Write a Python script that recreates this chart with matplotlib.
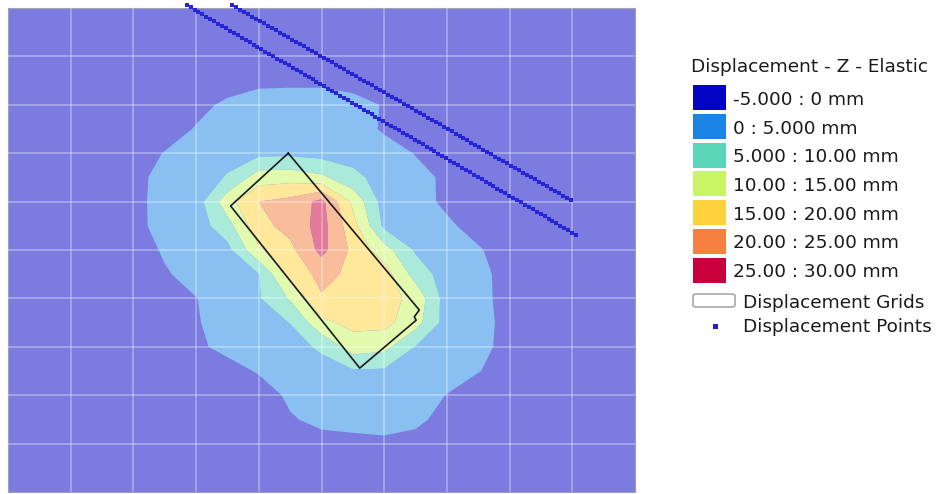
import numpy as np
import matplotlib
matplotlib.use("Agg")
import matplotlib.pyplot as plt
from matplotlib.patches import Rectangle, FancyBboxPatch
from matplotlib.colors import to_rgb

# Displacement bands (mm), colours and legend text
levels = [-5, 0, 5, 10, 15, 20, 25, 30]
band_colors = ["#0404c4", "#1c84e4", "#5cd6b8", "#c8f564", "#ffd23c", "#f58040", "#c8003c"]
band_labels = ["-5.000 : 0 mm", "0 : 5.000 mm", "5.000 : 10.00 mm", "10.00 : 15.00 mm",
               "15.00 : 20.00 mm", "20.00 : 25.00 mm", "25.00 : 30.00 mm"]
legend_title = "Displacement - Z - Elastic"
grid_label = "Displacement Grids"
points_label = "Displacement Points"

# Plan grid nodes (easting across, northing down) and Z displacement in mm
grid_x = np.arange(1.5, 8.75, 0.5)
grid_y = np.arange(1.0, 9.75, 0.5)
disp_z = np.array([
    [-3, -3, -3, -3, -3, -3, -3, -3, -3, -3, -3, -3, -3, -3, -3],
    [-3, -3, -3, -3, -2, -0.6, -0.5, -0.5, -1.2, -1.8, -3, -3, -3, -3, -3],
    [-3, -3, -3, -1.2, 0.8, 1.2, 1.2, 1.2, 1.1, -0.2, -2, -3, -3, -3, -3],
    [-3, -3, -2, 0.3, 1.8, 2.7, 2.9, 2.9, 2.2, -0.6, -2.2, -3, -3, -3, -3],
    [-3, -2, 0.2, 2.3, 3.7, 3.8, 3.9, 3.2, 2.8, 2.0, -0.2, -2.5, -3, -3, -3],
    [-3, -1, 1.1, 3.1, 5.3, 12.5, 13, 11, 6.5, 2.8, 1.4, -0.8, -3, -3, -3],
    [-3, -1, 1.3, 2.5, 13, 20, 21.5, 26.5, 13.9, 2.8, 1.5, -0.8, -3, -3, -3],
    [-3, -1, 1.2, 2.5, 8, 18.5, 21.6, 27, 16.9, 4.0, 2.6, 0.7, -1.5, -3, -3],
    [-3, -2, 0.5, 2.3, 3.5, 14.2, 18.75, 26.5, 18.8, 12.1, 4.4, 2.3, 0.4, -2, -3],
    [-3, -2.5, -0.4, 1.4, 3.2, 4.9, 16.7, 21.5, 18.9, 17.5, 8, 2.5, 1.0, -1.3, -3],
    [-3, -3, -2.5, -0.1, 1.9, 4.6, 10.5, 19.5, 18, 17, 13.5, 2.6, 1.1, -1.3, -3],
    [-3, -3, -2.7, -0.3, 1.6, 3.3, 5.1, 13.7, 16.5, 16.5, 12, 2.8, 1.25, -1.1, -3],
    [-3, -3, -3, -0.6, 0.9, 2.3, 3.2, 5.8, 12.5, 11.5, 4.8, 2.9, 1.0, -1.1, -3],
    [-3, -3, -3, -3, -1.2, 0.3, 1.7, 3.1, 4.5, 4.3, 3, 1.6, 0.2, -2, -3],
    [-3, -3, -3, -3, -3, -1.6, 0.6, 1.9, 2.8, 2.7, 1.6, -0.1, -2.5, -3, -3],
    [-3, -3, -3, -3, -3, -2.5, -0.3, 0.8, 1.0, 1.2, 0.8, -1.2, -3, -3, -3],
    [-3, -3, -3, -3, -3, -3, -2, -1.1, -0.8, -0.6, -1.2, -2.5, -3, -3, -3],
    [-3, -3, -3, -3, -3, -3, -3, -3, -3, -3, -3, -3, -3, -3, -3],
])

# Displacement grid outline
outline_x = [4.47, 6.56, 6.48, 6.51, 5.61, 3.55, 4.47]
outline_y = [3.00, 6.24, 6.38, 6.45, 7.44, 4.09, 3.00]

# Displacement point survey lines: start, end and number of points
line_a_start, line_a_end, line_a_count = (3.58, -0.06), (8.98, 3.97), 86
line_b_start, line_b_end, line_b_count = (2.85, -0.06), (9.06, 4.69), 100

# Bands are shown translucent over white
fill_alpha = 0.52
white = np.ones(3)
map_colors = [tuple(fill_alpha * np.array(to_rgb(c)) + (1 - fill_alpha) * white)
              for c in band_colors]

W, H = 941, 494
fig = plt.figure(figsize=(W / 100, H / 100), dpi=100)
ax = fig.add_axes([8 / W, 2 / H, 627 / W, 484 / H])
ax.set_facecolor(map_colors[0])

ax.contourf(grid_x, grid_y, disp_z, levels=levels, colors=map_colors, zorder=1,
            antialiased=True)

ax.set_xlim(0, 10)
ax.set_ylim(10, 0)
ax.set_xticks(np.arange(1, 10))
ax.set_yticks(np.arange(1, 10))
ax.tick_params(length=0, labelbottom=False, labelleft=False)
ax.set_axisbelow(False)
ax.grid(True, color="white", alpha=0.38, linewidth=1.1)
for s in ax.spines.values():
    s.set_color("#a0a0b8")
    s.set_linewidth(0.8)

ax.plot(outline_x, outline_y, color="#1a1a1a", linewidth=1.2, zorder=3)

for (x0, y0), (x1, y1), n in [(line_a_start, line_a_end, line_a_count),
                             (line_b_start, line_b_end, line_b_count)]:
    ax.scatter(np.linspace(x0, x1, n), np.linspace(y0, y1, n), marker="s", s=5,
               color="#2626d6", linewidths=0, zorder=4, clip_on=False)

# Legend block (positions in pixels from the top-left corner)
def fx(px):
    return px / W

def fy(py):
    return 1 - py / H

font = dict(fontsize=13.3, color="#1a1a1a", family="DejaVu Sans")
fig.text(fx(691), fy(71.5), legend_title, ha="left", va="baseline", **font)

pitch = 28.7
for i, (col, lab) in enumerate(zip(band_colors, band_labels)):
    cy = 97.8 + i * pitch
    fig.add_artist(Rectangle((fx(693), fy(cy + 12.5)), 33 / W, 25 / H,
                             transform=fig.transFigure, facecolor=col, edgecolor="none"))
    fig.text(fx(733), fy(cy + 7), lab, ha="left", va="baseline", **font)

fig.add_artist(FancyBboxPatch((fx(693), fy(307)), 42 / W, 13 / H,
                              boxstyle="round,pad=0,rounding_size=0.004",
                              transform=fig.transFigure, facecolor="white",
                              edgecolor="#a8a8a8", linewidth=1.2))
fig.text(fx(743), fy(308), grid_label, ha="left", va="baseline", **font)

fig.add_artist(Rectangle((fx(712.5), fy(328.5)), 5 / W, 5 / H,
                         transform=fig.transFigure, facecolor="#1f1fd0", edgecolor="none"))
fig.text(fx(743), fy(332), points_label, ha="left", va="baseline", **font)

fig.savefig("out.png", dpi=100)
